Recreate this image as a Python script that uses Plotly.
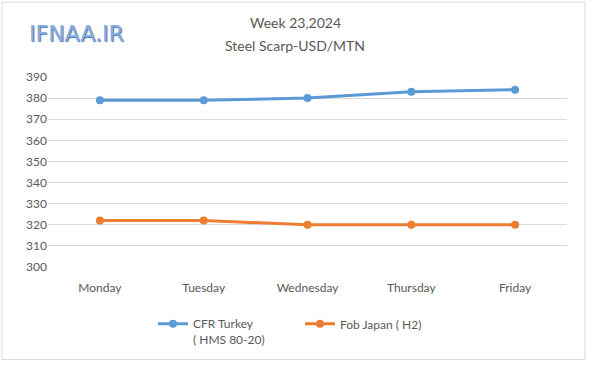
import plotly.graph_objects as go

days = ["Monday", "Tuesday", "Wednesday", "Thursday", "Friday"]
cfr_turkey = [379, 379, 380, 383, 384]
fob_japan = [322, 322, 320, 320, 320]
y_ticks = [300, 310, 320, 330, 340, 350, 360, 370, 380, 390]

FONT = "Lato"
GRAY = "#595959"

fig = go.Figure()
fig.add_trace(go.Scatter(
    x=days, y=cfr_turkey, mode="lines+markers",
    name="CFR Turkey<br>( HMS 80-20)",
    line=dict(color="#5B9BD5", width=3),
    marker=dict(size=8, color="#5B9BD5"),
))
fig.add_trace(go.Scatter(
    x=days, y=fob_japan, mode="lines+markers",
    name="Fob Japan ( H2)",
    line=dict(color="#ED7D31", width=3),
    marker=dict(size=8, color="#ED7D31"),
))

L, R, T, B = 48, 33, 77, 96
W, H = 600, 366
pw = W - L - R
ph = H - T - B

def px_x(x):
    return (x - L) / pw

def px_y(y):
    return (H - B - y) / ph

fig.update_layout(
    width=W, height=H,
    margin=dict(l=L, r=R, t=T, b=B),
    paper_bgcolor="white", plot_bgcolor="white",
    font=dict(family=FONT, size=12, color=GRAY),
    showlegend=True,
    legend=dict(orientation="h", x=px_x(153), xanchor="left", y=px_y(313), yanchor="top",
                font=dict(family=FONT, size=12, color=GRAY), valign="top",
                itemwidth=30, entrywidth=102, tracegroupgap=0),
    xaxis=dict(range=[-0.5, 4.5], showgrid=False, showline=False, ticks="outside",
               ticklen=10, tickcolor="rgba(0,0,0,0)", zeroline=False,
               tickfont=dict(family=FONT, size=12, color=GRAY)),
    yaxis=dict(range=[300, 390], tickvals=y_ticks, showgrid=True,
               gridcolor="#D9D9D9", gridwidth=1, zeroline=False, showline=False,
               ticks="", tickfont=dict(family=FONT, size=12, color=GRAY)),
    annotations=[
        dict(text="Week 23,2024", xref="paper", yref="paper",
             x=px_x(295), y=px_y(22), xanchor="center", yanchor="middle",
             showarrow=False, font=dict(family=FONT, size=14, color=GRAY)),
        dict(text="Steel Scarp-USD/MTN", xref="paper", yref="paper",
             x=px_x(295), y=px_y(45), xanchor="center", yanchor="middle",
             showarrow=False, font=dict(family=FONT, size=14, color=GRAY)),
        dict(text="IFNAA.IR", xref="paper", yref="paper",
             x=px_x(27), y=px_y(33), xanchor="left", yanchor="middle",
             showarrow=False,
             font=dict(family="DejaVu Sans", size=22, color="#86AEE0",
                       shadow="1px 1px 1px #3E6FB0")),
    ],
    shapes=[
        dict(type="rect", xref="paper", yref="paper",
             x0=px_x(2), x1=px_x(585),
             y0=px_y(364), y1=px_y(1),
             line=dict(color="#D9D9D9", width=1), fillcolor="rgba(0,0,0,0)", layer="below"),
    ],
)

fig.write_html("out.html", config={"displayModeBar": False},
               post_script="document.body.style.margin='0';")
